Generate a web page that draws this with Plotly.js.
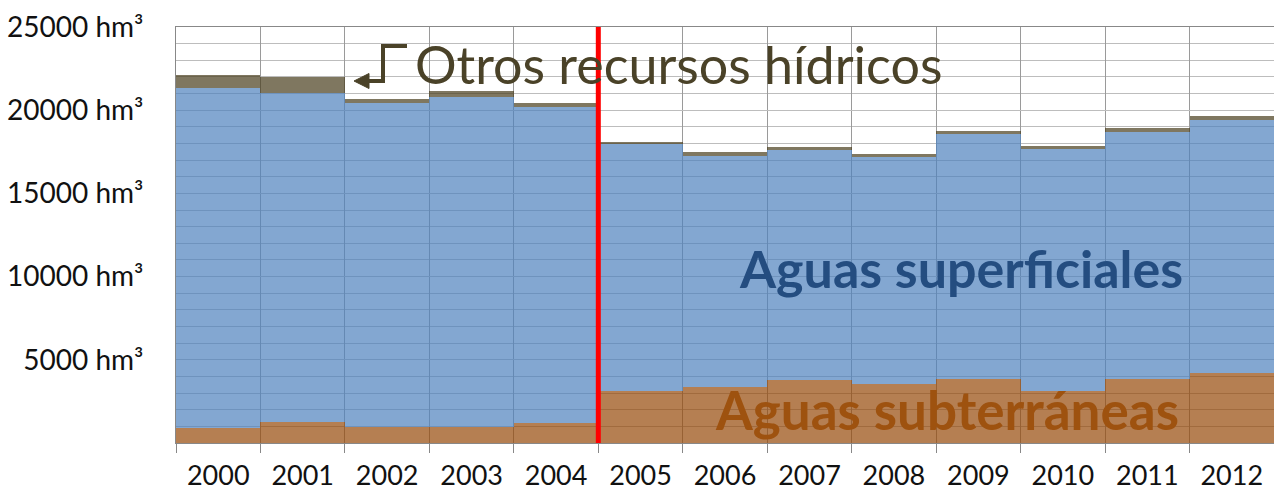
<!DOCTYPE html>
<html>
<head>
<meta charset="utf-8">
<script src="https://cdn.plot.ly/plotly-3.0.1.min.js"></script>
<style>html,body{margin:0;padding:0;background:#fff;}#chart{width:1274px;height:495px;}</style>
</head>
<body>
<div id="chart"></div>
<script>
// Data (hm³)
const years = ['2000','2001','2002','2003','2004','2005','2006','2007','2008','2009','2010','2011','2012'];
const subterraneas = [930, 1280, 940, 940, 1200, 3140, 3340, 3790, 3520, 3860, 3140, 3860, 4230];
const superficiales = [20410, 19740, 19510, 19870, 19010, 14830, 13910, 13800, 13690, 14700, 14530, 14820, 15170];
const otros = [800, 960, 240, 320, 240, 140, 240, 180, 145, 180, 200, 260, 240];
const yTickVals = [5000, 10000, 15000, 20000, 25000];
const yTickText = ['5000 hm³', '10000 hm³', '15000 hm³', '20000 hm³', '25000 hm³'];
const separatorYear = '2005';

const W = 1274, H = 495, ML = 176, MR = 0, MT = 27, MB = 52;
const PW = W - ML - MR, PH = H - MT - MB;
const px = v => (v - ML) / PW;
const py = v => (H - MB - v) / PH;

const baseFont = 'Lato, "Open Sans", sans-serif';

const traces = [
  {type: 'bar', x: years, y: subterraneas, name: 'Aguas subterráneas',
   marker: {color: 'rgba(149,72,9,0.7)', line: {width: 0}}, hoverinfo: 'skip'},
  {type: 'bar', x: years, y: superficiales, name: 'Aguas superficiales',
   marker: {color: 'rgba(79,129,189,0.7)', line: {width: 0}}, hoverinfo: 'skip'},
  {type: 'bar', x: years, y: otros, name: 'Otros recursos hídricos',
   marker: {color: 'rgba(72,61,29,0.7)', line: {width: 0}}, hoverinfo: 'skip'}
];

const sepX = years.indexOf(separatorYear) - 0.5;

const arrowColor = '#4A4228';
const layout = {
  width: W, height: H,
  margin: {l: ML, r: MR, t: MT, b: MB, pad: 0},
  paper_bgcolor: '#ffffff', plot_bgcolor: '#ffffff',
  barmode: 'stack', bargap: 0, showlegend: false,
  font: {family: baseFont, color: '#111'},
  xaxis: {
    type: 'category', tickson: 'boundaries', ticks: 'outside', ticklen: 9,
    tickcolor: '#888', showgrid: true, gridcolor: '#9a9a9a', gridwidth: 1,
    showline: true, linecolor: '#888', linewidth: 1, mirror: true,
    ticklabelstandoff: 9,
    tickfont: {family: baseFont, size: 27, color: '#111'},
    fixedrange: true, layer: 'below traces'
  },
  yaxis: {
    range: [0, 25000], tickvals: yTickVals, ticktext: yTickText,
    showgrid: true, gridcolor: '#bdbdbd', gridwidth: 1,
    minor: {dtick: 1000, showgrid: true, gridcolor: '#bdbdbd', gridwidth: 1},
    ticks: 'outside', ticklen: 26, tickcolor: 'rgba(0,0,0,0)',
    showline: true, linecolor: '#888', linewidth: 1,
    zeroline: false,
    tickfont: {family: baseFont, size: 28, color: '#111'},
    fixedrange: true
  },
  shapes: [
    {type: 'line', xref: 'x', yref: 'paper', x0: sepX, x1: sepX, y0: 0, y1: 1,
     line: {color: '#ff0000', width: 5}},
    {type: 'path', xref: 'paper', yref: 'paper',
     path: `M ${px(407)} ${py(46)} L ${px(383)} ${py(46)} L ${px(383)} ${py(81)} L ${px(366)} ${py(81)}`,
     line: {color: arrowColor, width: 4}},
    {type: 'path', xref: 'paper', yref: 'paper',
     path: `M ${px(354)} ${py(81)} L ${px(369)} ${py(73.5)} L ${px(369)} ${py(88.5)} Z`,
     fillcolor: arrowColor, line: {color: arrowColor, width: 1}}
  ],
  annotations: [
    {xref: 'paper', yref: 'paper', x: px(413), y: py(64), xanchor: 'left', yanchor: 'middle',
     text: 'Otros recursos hídricos', showarrow: false,
     font: {family: baseFont, size: 52, color: arrowColor}},
    {xref: 'paper', yref: 'paper', x: px(961), y: py(268), xanchor: 'center', yanchor: 'middle',
     text: '<b>Aguas superficiales</b>', showarrow: false,
     font: {family: baseFont, size: 52, color: '#244D80'}},
    {xref: 'paper', yref: 'paper', x: px(947), y: py(409), xanchor: 'center', yanchor: 'middle',
     text: '<b>Aguas subterráneas</b>', showarrow: false,
     font: {family: baseFont, size: 53, color: '#9E520F'}}
  ]
};

Plotly.newPlot('chart', traces, layout, {displayModeBar: false, staticPlot: true});
</script>
</body>
</html>
